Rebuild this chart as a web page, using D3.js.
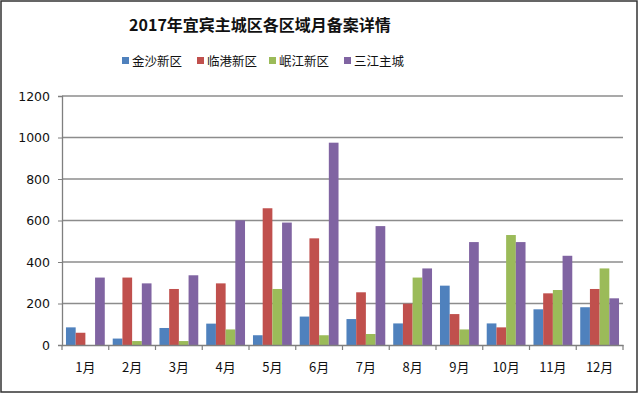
<!DOCTYPE html>
<html>
<head>
<meta charset="utf-8">
<script src="https://cdn.jsdelivr.net/npm/d3@7"></script>
<style>
  body { margin: 0; background: #fff; }
  #chart { width: 640px; height: 394px; }
</style>
</head>
<body>
<div id="chart"></div>
<script>
// data
const months = ['1月', '2月', '3月', '4月', '5月', '6月', '7月', '8月', '9月', '10月', '11月', '12月']
const seriesNames = ['金沙新区', '临港新区', '岷江新区', '三江主城']
const jinsha = [85, 31, 82, 103, 47, 137, 125, 104, 286, 104, 172, 182]
const lingang = [59, 325, 270, 297, 659, 514, 254, 199, 149, 85, 249, 270]
const minjiang = [0, 19, 19, 75, 270, 47, 53, 325, 75, 530, 265, 369]
const sanjiang = [325, 297, 336, 601, 590, 975, 573, 369, 496, 496, 430, 225]
const yTicks = [0, 200, 400, 600, 800, 1000, 1200]

const colors = ['#4f81bd', '#c0504d', '#9bbb59', '#8064a2']
const w = 640, h = 394
const margin = { top: 96, right: 17, bottom: 49, left: 62 }

const allSeries = [jinsha, lingang, minjiang, sanjiang]
const data = months.map((m, i) => ({
  month: m,
  values: allSeries.map((s, k) => ({ key: seriesNames[k], value: s[i], color: colors[k] }))
}))

const svg = d3.select('#chart').append('svg')
  .attr('width', w)
  .attr('height', h)
  .style('font-family', '"DejaVu Sans", sans-serif')

// outer frame
svg.append('rect')
  .attr('x', 1).attr('y', 1)
  .attr('width', w - 4).attr('height', h - 3)
  .attr('fill', 'none')
  .attr('stroke', '#333')
  .attr('stroke-width', 1.5)

const x0 = d3.scaleBand()
  .domain(months)
  .range([margin.left, w - margin.right])
  .paddingInner(0)
  .paddingOuter(0)

const x1 = d3.scaleBand()
  .domain(seriesNames)
  .range([0, x0.bandwidth()])
  .paddingOuter(0.41)
  .paddingInner(0)

const y = d3.scaleLinear()
  .domain([0, 1200])
  .range([h - margin.bottom, margin.top])

// grid lines
svg.append('g')
  .selectAll('line')
  .data(yTicks.filter(d => d > 0))
  .enter()
  .append('line')
  .attr('x1', margin.left)
  .attr('x2', w - margin.right)
  .attr('y1', d => y(d))
  .attr('y2', d => y(d))
  .attr('stroke', '#8c8c8c')
  .attr('stroke-width', 1.3)

// bars
const groups = svg.append('g')
  .selectAll('g')
  .data(data)
  .enter()
  .append('g')
  .attr('transform', d => `translate(${x0(d.month)},0)`)

groups.selectAll('rect')
  .data(d => d.values)
  .enter()
  .append('rect')
  .attr('x', d => x1(d.key))
  .attr('width', x1.bandwidth())
  .attr('y', d => y(d.value))
  .attr('height', d => y(0) - y(d.value))
  .attr('fill', d => d.color)

// y axis
const yAxis = svg.append('g')
  .attr('transform', `translate(${margin.left},0)`)
  .call(d3.axisLeft(y).tickValues(yTicks).tickSize(4).tickPadding(8).tickFormat(d3.format('d')))
yAxis.select('.domain').attr('stroke', '#7f7f7f').attr('stroke-width', 1.3)
yAxis.selectAll('.tick line').attr('stroke', '#7f7f7f')
yAxis.selectAll('text')
  .attr('font-size', '12.5px')
  .attr('fill', '#111')
  .attr('font-family', '"DejaVu Sans", sans-serif')

// x axis
const xAxis = svg.append('g')
  .attr('transform', `translate(0,${y(0)})`)
  .call(d3.axisBottom(x0).tickSize(0).tickPadding(18))
xAxis.select('.domain').attr('stroke', '#7f7f7f').attr('stroke-width', 1.3)
xAxis.selectAll('text')
  .attr('font-size', '13px')
  .attr('fill', '#111')
  .attr('font-family', '"Noto Sans CJK SC", sans-serif')

// category boundary ticks
svg.append('g')
  .selectAll('line')
  .data(months.map(m => x0(m)).concat([x0.range()[1]]))
  .enter()
  .append('line')
  .attr('x1', d => d).attr('x2', d => d)
  .attr('y1', y(0)).attr('y2', y(0) + 5)
  .attr('stroke', '#7f7f7f')
  .attr('stroke-width', 1.2)

// title
svg.append('text')
  .attr('x', 260)
  .attr('y', 31)
  .attr('text-anchor', 'middle')
  .attr('font-size', '16px')
  .attr('font-weight', 'bold')
  .attr('font-family', '"Noto Sans CJK SC", sans-serif')
  .attr('fill', '#111')
  .text('2017年宜宾主城区各区域月备案详情')

// legend
const legendX = [122, 197, 269, 344]
const legend = svg.append('g')
  .selectAll('g')
  .data(seriesNames)
  .enter()
  .append('g')
  .attr('transform', (d, i) => `translate(${legendX[i]},61)`)
legend.append('rect')
  .attr('x', 0).attr('y', -4)
  .attr('width', 7).attr('height', 7)
  .attr('fill', (d, i) => colors[i])
legend.append('text')
  .attr('x', 10)
  .attr('y', 4.5)
  .attr('font-size', '12.5px')
  .attr('font-family', '"Noto Sans CJK SC", sans-serif')
  .attr('fill', '#111')
  .text(d => d)
</script>
</body>
</html>
